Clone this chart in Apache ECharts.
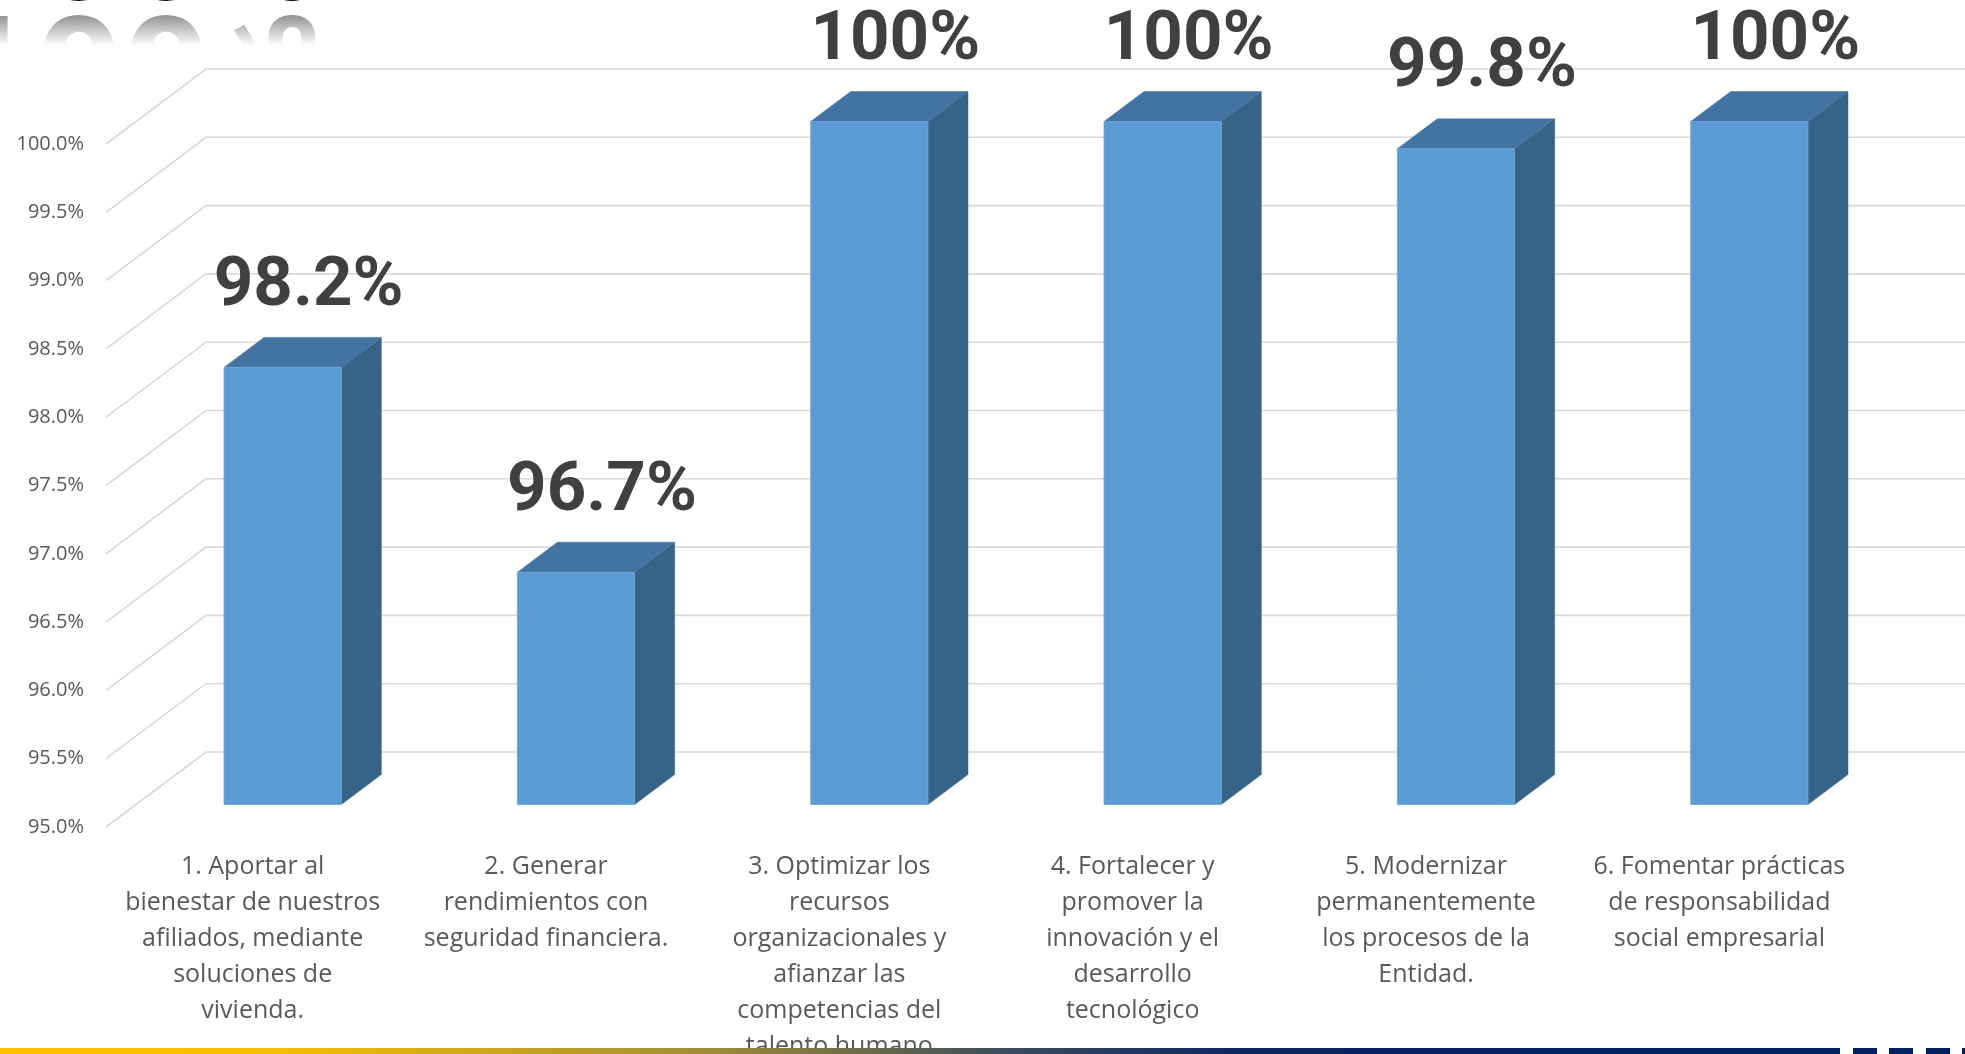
<!DOCTYPE html>
<html>
<head>
<meta charset="utf-8">
<script src="https://cdn.jsdelivr.net/npm/echarts@6/dist/echarts.min.js"></script>
<style>
html,body{margin:0;padding:0;background:#ffffff;overflow:hidden}
#chart{width:1965px;height:1054px}
</style>
</head>
<body>
<div id="chart"></div>
<script>
// ---- data ----
const categories = [
  '1. Aportar al\nbienestar de nuestros\nafiliados, mediante\nsoluciones de\nvivienda.',
  '2. Generar\nrendimientos con\nseguridad financiera.',
  '3. Optimizar los\nrecursos\norganizacionales y\nafianzar las\ncompetencias del\ntalento humano',
  '4. Fortalecer y\npromover la\ninnovación y el\ndesarrollo\ntecnológico',
  '5. Modernizar\npermanentemente\nlos procesos de la\nEntidad.',
  '6. Fomentar prácticas\nde responsabilidad\nsocial empresarial'
];
const values = [98.2, 96.7, 100, 100, 99.8, 100];
const valueLabels = ['98.2%', '96.7%', '100%', '100%', '99.8%', '100%'];
const yTickValues = [95, 95.5, 96, 96.5, 97, 97.5, 98, 98.5, 99, 99.5, 100];
const yMin = 95, yMax = 100, yStep = 0.5;
const headerText = '100%';

// ---- 3D look (style) ----
const DX = 100, DY = -75;          // floor depth offset
const BAR_FRONT = 0.3, BAR_BACK = 0.7, BAR_W = 0.4;
const GRID_COLOR = '#D9D9D9';

const chart = echarts.init(document.getElementById('chart'), null, {renderer: 'canvas'});

const option = {
  backgroundColor: '#ffffff',
  animation: false,
  grid: {left: 106, right: 99, top: 144, bottom: 227, containLabel: false, outerBoundsMode: 'none'},
  xAxis: {
    type: 'category',
    data: categories,
    axisLine: {show: false},
    axisTick: {show: false},
    splitLine: {show: false},
    axisLabel: {
      interval: 0,
      color: '#595959',
      fontFamily: 'Open Sans',
      fontSize: 25,
      lineHeight: 36,
      margin: 22,
      align: 'center'
    }
  },
  yAxis: {
    type: 'value',
    min: yMin, max: yMax, interval: yStep,
    axisLine: {show: false},
    axisTick: {show: false},
    splitLine: {show: false},
    axisLabel: {
      color: '#595959',
      fontFamily: 'Open Sans',
      fontSize: 20,
      margin: 22,
      padding: [5, 0, 0, 0],
      formatter: v => v.toFixed(1) + '%'
    }
  },
  graphic: [
    {
      type: 'text', x: -52, y: 8,
      style: {text: headerText, x: 0, y: -46, font: 'bold 152px Roboto', fill: '#000000', verticalAlign: 'middle', align: 'left'}
    },
    {
      type: 'text', x: -52, y: 8, scaleY: -1,
      style: {text: headerText, x: 0, y: -46, font: 'bold 152px Roboto', fill: '#6a6a6a', verticalAlign: 'middle', align: 'left'}
    },
    {
      type: 'rect', shape: {x: 0, y: 8, width: 390, height: 125},
      style: {
        fill: new echarts.graphic.LinearGradient(0, 0, 0, 1, [
          {offset: 0, color: 'rgba(255,255,255,0.1)'},
          {offset: 0.3, color: 'rgba(255,255,255,1)'},
          {offset: 1, color: 'rgba(255,255,255,1)'}
        ])
      }
    },
    {
      type: 'rect', z: 100, shape: {x: 0, y: 1048, width: 1840, height: 6},
      style: {
        fill: new echarts.graphic.LinearGradient(0, 0, 1, 0, [
          {offset: 0, color: '#FFC000'},
          {offset: 0.15, color: '#F6BE02'},
          {offset: 0.38, color: '#A08F35'},
          {offset: 0.55, color: '#3B4A5C'},
          {offset: 0.68, color: '#0A2461'},
          {offset: 1, color: '#002060'}
        ])
      }
    },
    {type: 'rect', z: 100, shape: {x: 1853, y: 1048, width: 24, height: 6}, style: {fill: '#002060'}},
    {type: 'rect', z: 100, shape: {x: 1889, y: 1048, width: 24, height: 6}, style: {fill: '#002060'}},
    {type: 'rect', z: 100, shape: {x: 1926, y: 1048, width: 24, height: 6}, style: {fill: '#002060'}},
    {type: 'rect', z: 100, shape: {x: 1962, y: 1048, width: 24, height: 6}, style: {fill: '#002060'}}
  ],
  series: [
    {
      type: 'custom',
      name: 'gridlines',
      silent: true,
      z: 1,
      data: yTickValues.map(v => [0, v]),
      renderItem: function (params, api) {
        const cs = params.coordSys;
        const p = api.coord([0, api.value(1)]);
        const x0 = cs.x, y = p[1];
        return {
          type: 'polyline',
          shape: {points: [[x0, y], [x0 + DX, y + DY], [cs.x + cs.width + DX + 10, y + DY]]},
          style: {stroke: GRID_COLOR, lineWidth: 1.6, fill: null}
        };
      }
    },
    {
      type: 'custom',
      name: 'bars',
      z: 3,
      data: values.map((v, i) => [i, v]),
      renderItem: function (params, api) {
        const i = api.value(0), v = api.value(1);
        const lbl = valueLabels[params.dataIndex];
        const base = api.coord([i, yMin]);
        const top = api.coord([i, v]);
        const band = api.size([1, 0])[0];
        const w = band * BAR_W;
        const x1 = base[0] + DX * BAR_FRONT - w / 2;
        const x2 = x1 + w;
        const yb = base[1] + DY * BAR_FRONT;
        const yt = top[1] + DY * BAR_FRONT;
        const ddx = DX * (BAR_BACK - BAR_FRONT), ddy = DY * (BAR_BACK - BAR_FRONT);
        return {
          type: 'group',
          children: [
            {type: 'polygon', shape: {points: [[x2, yt], [x2 + ddx, yt + ddy], [x2 + ddx, yb + ddy], [x2, yb]]},
             style: {fill: '#376387', stroke: '#376387', lineWidth: 0.5}},
            {type: 'polygon', shape: {points: [[x1, yt], [x2, yt], [x2 + ddx, yt + ddy], [x1 + ddx, yt + ddy]]},
             style: {fill: '#4373A0', stroke: '#4373A0', lineWidth: 0.5}},
            {type: 'rect', shape: {x: x1, y: yt, width: w, height: yb - yt},
             style: {fill: '#5B9BD5', stroke: '#6FA6DA', lineWidth: 0.8}},
            {type: 'text',
             style: {text: lbl, x: (x1 + x2 + ddx) / 2 + 6, y: yt + ddy - 50,
                     font: 'bold 69px Roboto', fill: '#404040', align: 'center', verticalAlign: 'middle'}}
          ]
        };
      }
    }
  ]
};
chart.setOption(option);
</script>
</body>
</html>
